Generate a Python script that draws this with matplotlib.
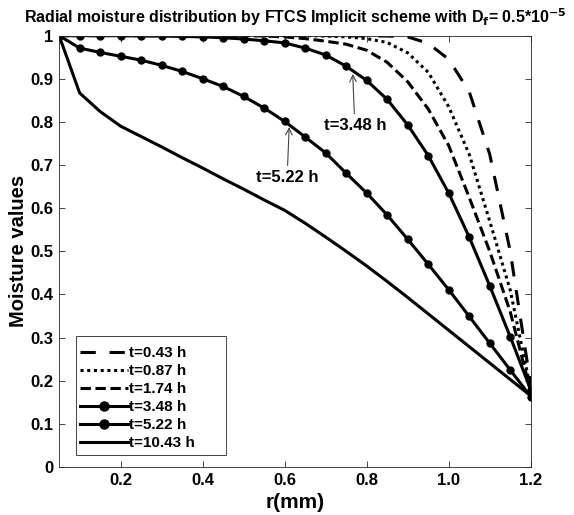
import matplotlib
matplotlib.use("Agg")
import matplotlib.pyplot as plt
from matplotlib.patches import Rectangle

plt.rcParams['font.family'] = ['Liberation Sans', 'DejaVu Sans']
plt.rcParams['font.weight'] = 'bold'

# radius grid (mm)
r = [0.05, 0.10, 0.15, 0.20, 0.25, 0.30, 0.35, 0.40, 0.45, 0.50, 0.55, 0.60,
     0.65, 0.70, 0.75, 0.80, 0.85, 0.90, 0.95, 1.00, 1.05, 1.10, 1.15, 1.20]

# moisture values
m_043 = [1.0, 1.0, 1.0, 1.0, 1.0, 1.0, 1.0, 1.0, 1.0, 1.0, 1.0, 1.0,
         1.0, 1.0, 0.9995, 0.999, 0.999, 0.997, 0.982, 0.945, 0.87, 0.725, 0.50, 0.19]
m_087 = [1.0, 1.0, 1.0, 1.0, 1.0, 1.0, 1.0, 1.0, 1.0, 1.0, 1.0, 1.0,
         1.0, 0.999, 0.997, 0.993, 0.984, 0.96, 0.915, 0.835, 0.725, 0.57, 0.41, 0.18]
m_174 = [1.0, 1.0, 1.0, 1.0, 1.0, 1.0, 1.0, 1.0, 1.0, 1.0, 0.999, 0.997,
         0.993, 0.987, 0.98, 0.966, 0.938, 0.893, 0.83, 0.745, 0.625, 0.50, 0.36, 0.175]
m_348 = [1.0, 1.0, 1.0, 1.0, 0.999, 0.999, 0.998, 0.997, 0.995, 0.992, 0.988, 0.983,
         0.971, 0.955, 0.929, 0.896, 0.852, 0.793, 0.722, 0.635, 0.533, 0.42, 0.302, 0.179]
m_522 = [1.0, 0.971, 0.961, 0.952, 0.943, 0.931, 0.917, 0.900, 0.882, 0.859, 0.832, 0.801,
         0.765, 0.728, 0.681, 0.635, 0.584, 0.528, 0.470, 0.411, 0.349, 0.287, 0.225, 0.163]
m_1043 = [1.0, 0.867, 0.824, 0.790, 0.766, 0.742, 0.717, 0.693, 0.668, 0.644, 0.619, 0.595,
          0.565, 0.533, 0.500, 0.466, 0.430, 0.393, 0.355, 0.317, 0.279, 0.241, 0.203, 0.165]

xticks = [0.2, 0.4, 0.6, 0.8, 1.0, 1.2]
xticklabels = ["0.2", "0.4", "0.6", "0.8", "1.0", "1.2"]
yticks = [0, 0.1, 0.2, 0.3, 0.4, 0.5, 0.6, 0.7, 0.8, 0.9, 1.0]
yticklabels = ["0", "0.1", "0.2", "0.3", "0.4", "0.5", "0.6", "0.7", "0.8", "0.9", "1"]

fig = plt.figure(figsize=(5.74, 5.15), dpi=100)
ax = fig.add_axes([0.103, 0.0932, 0.8216, 0.8377])

lw = 2.2
ax.plot(r, m_043, color='k', lw=lw, dashes=(5.0, 4.5), label="t=0.43 h")
ax.plot(r, m_087, color='k', lw=lw, dashes=(1.0, 1.2), label="t=0.87 h")
ax.plot(r, m_174, color='k', lw=lw, dashes=(3.4, 1.5), label="t=1.74 h")
ax.plot(r, m_348, color='k', lw=lw, marker='o', ms=5, label="t=3.48 h")
ax.plot(r, m_522, color='k', lw=lw, marker='o', ms=5, label="t=5.22 h")
ax.plot(r, m_1043, color='k', lw=lw, label="t=10.43 h")

arrow = dict(arrowstyle='->', color='#444444', lw=0.8, shrinkA=1, shrinkB=0)
ax.annotate("t=3.48 h", xy=(0.766, 0.911), xytext=(0.771, 0.792),
            ha='center', va='center', fontsize=12, fontweight='bold', arrowprops=arrow)
ax.annotate("t=5.22 h", xy=(0.611, 0.788), xytext=(0.606, 0.672),
            ha='center', va='center', fontsize=12, fontweight='bold', arrowprops=arrow)

ax.set_xlim(0.05, 1.2)
ax.set_ylim(0, 1)
ax.set_xticks(xticks)
ax.set_xticklabels(xticklabels)
ax.set_yticks(yticks)
ax.set_yticklabels(yticklabels)
ax.tick_params(direction='in', length=4, width=0.6, color='#262626',
               labelsize=12, top=True, right=True, pad=4)
for lab in ax.get_xticklabels() + ax.get_yticklabels():
    lab.set_fontweight('bold')
for s in ax.spines.values():
    s.set_color('#262626')
    s.set_linewidth(0.6)

ax.set_xlabel("r(mm)", fontsize=15, fontweight='bold', labelpad=4)
ax.set_ylabel("Moisture values", fontsize=14.5, fontweight='bold', labelpad=2)
ax.set_title(r"Radial moisture distribution by FTCS Implicit scheme with D$_\mathbf{f}$= 0.5*10$^\mathbf{-5}$",
             fontsize=11.5, fontweight='bold', pad=9)

# legend box (MATLAB style, extra room on the right)
ax.add_patch(Rectangle((0.0356, 0.028), 0.318, 0.276, transform=ax.transAxes,
                       facecolor='white', edgecolor='#262626', lw=0.6, zorder=4))
leg = ax.legend(loc='upper left', bbox_to_anchor=(0.0356, 0.290), borderaxespad=0,
                fontsize=11, handlelength=3.1, handletextpad=0.1, labelspacing=0.26,
                frameon=False, borderpad=0.3, markerscale=1.3)
leg.set_zorder(5)
for t in leg.get_texts():
    t.set_fontweight('bold')

fig.savefig("out.png", dpi=100)
